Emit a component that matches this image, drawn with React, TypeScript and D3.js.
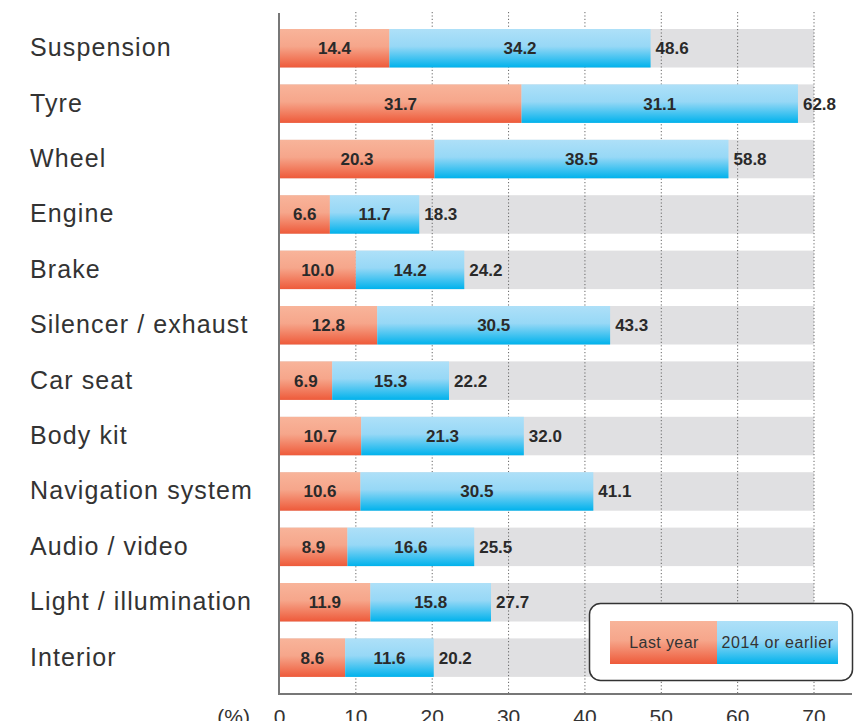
import React from "react";
import * as d3 from "d3";

const categories = [
  "Suspension",
  "Tyre",
  "Wheel",
  "Engine",
  "Brake",
  "Silencer / exhaust",
  "Car seat",
  "Body kit",
  "Navigation system",
  "Audio / video",
  "Light / illumination",
  "Interior",
];
// printed values
const lastYear = [14.4, 31.7, 20.3, 6.6, 10.0, 12.8, 6.9, 10.7, 10.6, 8.9, 11.9, 8.6];
const earlier = [34.2, 31.1, 38.5, 11.7, 14.2, 30.5, 15.3, 21.3, 30.5, 16.6, 15.8, 11.6];
const totals = [48.6, 62.8, 58.8, 18.3, 24.2, 43.3, 22.2, 32.0, 41.1, 25.5, 27.7, 20.2];
// drawn length of the "2014 or earlier" segment (Tyre bar is drawn longer than its label)
const earlierBar = [34.2, 36.2, 38.5, 11.7, 14.2, 30.5, 15.3, 21.3, 30.5, 16.6, 15.8, 11.6];
const ticks = [0, 10, 20, 30, 40, 50, 60, 70];
const seriesNames = ["Last year", "2014 or earlier"];

const W = 864;
const H = 721;

export default function App() {
  const x = d3.scaleLinear().domain([0, 70]).range([279.5, 814]);
  const y = d3
    .scaleBand<string>()
    .domain(categories)
    .range([20.55, 685.35])
    .paddingInner(0.305)
    .paddingOuter(0.1525);
  const bw = y.bandwidth();
  const font = "'Liberation Sans', Arial, Helvetica, sans-serif";
  const axisY = 694;

  return (
    <svg
      width={W}
      height={H}
      style={{ position: "absolute", left: 0, top: 0, display: "block" }}
      fontFamily={font}
    >
      <defs>
        <linearGradient id="gOrange" x1="0" y1="0" x2="0" y2="1">
          <stop offset="0" stopColor="#f8b49a" />
          <stop offset="0.45" stopColor="#f6a68b" />
          <stop offset="1" stopColor="#ee5a3a" />
        </linearGradient>
        <linearGradient id="gBlue" x1="0" y1="0" x2="0" y2="1">
          <stop offset="0" stopColor="#aee0f8" />
          <stop offset="0.45" stopColor="#97d8f6" />
          <stop offset="1" stopColor="#00b2ec" />
        </linearGradient>
      </defs>
      <rect width={W} height={H} fill="#fff" />

      {/* gray background bars */}
      {categories.map((c) => (
        <rect key={"bg" + c} x={x(0)} y={y(c)!} width={x(70) - x(0)} height={bw} fill="#e0e0e2" />
      ))}

      {/* dotted gridlines */}
      {ticks.slice(1).map((t) => (
        <line
          key={"g" + t}
          x1={x(t)}
          x2={x(t)}
          y1={12}
          y2={axisY}
          stroke="#666"
          strokeWidth={1}
          strokeDasharray="1.2,2.2"
        />
      ))}

      {/* bars */}
      {categories.map((c, i) => {
        const y0 = y(c)!;
        const a = lastYear[i];
        const b = earlier[i];
        const tot = totals[i];
        const xa = x(a);
        const xb = x(a + earlierBar[i]);
        const ty = y0 + bw / 2 + 6;
        return (
          <g key={"b" + c}>
            <rect x={x(0)} y={y0} width={xa - x(0)} height={bw} fill="url(#gOrange)" />
            <rect x={xa} y={y0} width={xb - xa} height={bw} fill="url(#gBlue)" />
            <text x={(x(0) + xa) / 2} y={ty} textAnchor="middle" fontSize={17} fontWeight="bold" fill="#2a2a2a">
              {a.toFixed(1)}
            </text>
            <text x={(xa + xb) / 2} y={ty} textAnchor="middle" fontSize={17} fontWeight="bold" fill="#2a2a2a">
              {b.toFixed(1)}
            </text>
            <text x={xb + 5} y={ty} textAnchor="start" fontSize={17} fontWeight="bold" fill="#2a2a2a">
              {tot.toFixed(1)}
            </text>
            <text x={30} y={y0 + bw / 2 + 8} fontSize={25} letterSpacing={1.1} fill="#333">
              {c}
            </text>
          </g>
        );
      })}

      {/* axes */}
      <line x1={279} x2={279} y1={13} y2={axisY + 1} stroke="#777" strokeWidth={2} />
      <line x1={278} x2={852} y1={axisY} y2={axisY} stroke="#777" strokeWidth={2} />
      {ticks.map((t) => (
        <text key={"t" + t} x={x(t)} y={724} textAnchor="middle" fontSize={21} fill="#333">
          {t}
        </text>
      ))}
      <text x={250} y={724} textAnchor="end" fontSize={21} fill="#333">
        (%)
      </text>

      {/* legend */}
      <rect x={589.5} y={603.5} width={263} height={77} rx={11} ry={11} fill="#fff" stroke="#333" strokeWidth={1.5} />
      <rect x={610} y={621} width={107} height={43} fill="url(#gOrange)" />
      <rect x={717} y={621} width={121} height={43} fill="url(#gBlue)" />
      <text x={664} y={647.5} textAnchor="middle" fontSize={16} letterSpacing={0.4} fill="#333">
        {seriesNames[0]}
      </text>
      <text x={777.5} y={647.5} textAnchor="middle" fontSize={16} letterSpacing={0.6} fill="#333">
        {seriesNames[1]}
      </text>
    </svg>
  );
}
